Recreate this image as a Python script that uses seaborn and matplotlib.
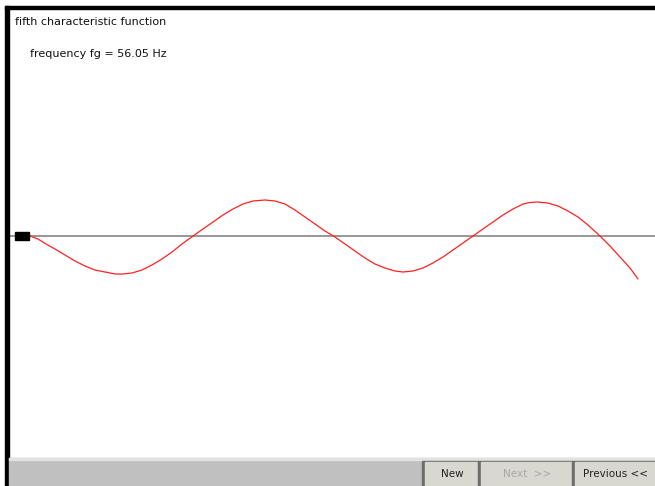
import numpy as np
import pandas as pd
import matplotlib
matplotlib.use('Agg')
import matplotlib.pyplot as plt
from matplotlib.patches import Rectangle
import seaborn as sns

# beam position (screen units) and deflection of the 5th mode
position = [30, 38, 46, 55, 65, 75, 85, 95, 105, 115, 123, 132, 142, 152, 162, 172, 182, 193,
            203, 213, 223, 233, 243, 253, 265, 275, 285, 295, 305, 315, 325, 335,
            345, 355, 365, 375, 385, 395, 403, 413, 423, 433, 443, 453, 463, 473,
            483, 493, 503, 513, 523, 530, 538, 548, 558, 568, 578, 588, 600,
            610, 620, 630, 638]
deflection = [0, -3, -8, -13, -19, -25, -30, -34, -36, -38, -38, -37, -34, -29, -23, -16, -8, 0,
              7, 14, 21, 27, 32, 35, 36, 35, 32, 26, 19, 12, 5, -1,
              -8, -15, -22, -28, -32, -35, -36, -35, -32, -27, -21, -14, -7, 0,
              7, 14, 21, 27, 32, 33.5, 34, 33, 30, 25, 19, 11, 0,
              -10, -21, -32, -43]

title_text = "fifth characteristic function"
freq_text = "frequency fg = 56.05 Hz"
buttons = ["New", "Next  >>", "Previous <<"]
button_enabled = [True, False, True]

df = pd.DataFrame({"position": position, "deflection": deflection})

sns.set_style("white")
plt.rcParams['font.family'] = ['DejaVu Sans']

fig = plt.figure(figsize=(6.55, 4.86), dpi=100)
ax = fig.add_axes([0, 0, 1, 1])
ax.set_xlim(0, 655)
ax.set_ylim(-250, 236)
ax.axis('off')

# zero line and clamp
ax.plot([9, 655], [0, 0], color='#7a7a7a', lw=1.1, zorder=2)
ax.add_patch(Rectangle((15, -4), 14, 8, color='black', zorder=4))

sns.lineplot(data=df, x="position", y="deflection", ax=ax, color='#ff2020',
             lw=0.9, zorder=3, legend=False)

# window chrome: overlay axes in screen pixels
ui = fig.add_axes([0, 0, 1, 1], facecolor='none')
ui.set_xlim(0, 655)
ui.set_ylim(486, 0)
ui.axis('off')
ui.add_patch(Rectangle((5, 6), 650, 3.5, color='black'))
ui.add_patch(Rectangle((5, 6), 3.5, 480, color='black'))
ui.add_patch(Rectangle((8.5, 458), 647, 28, color='#c0c0c0'))
ui.add_patch(Rectangle((8.5, 458), 647, 1.5, color='#e2e2e2'))

ui.text(15, 22, title_text, fontsize=8, va='center', ha='left', color='#111111')
ui.text(30, 54, freq_text, fontsize=8, va='center', ha='left', color='#111111')

btn_x = [422, 478, 572]
btn_w = [56, 94, 83]
for label, x0, w, on in zip(buttons, btn_x, btn_w, button_enabled):
    ui.add_patch(Rectangle((x0, 461), w, 25, color='#6c6c6c'))
    ui.add_patch(Rectangle((x0 + 3, 462), w - 3, 24, color='#d8d8d0'))
    ui.text(x0 + 2 + w / 2, 474, label, fontsize=7.5, ha='center', va='center',
            color='#222222' if on else '#a8a8a8')

fig.savefig('out.png', dpi=100)
